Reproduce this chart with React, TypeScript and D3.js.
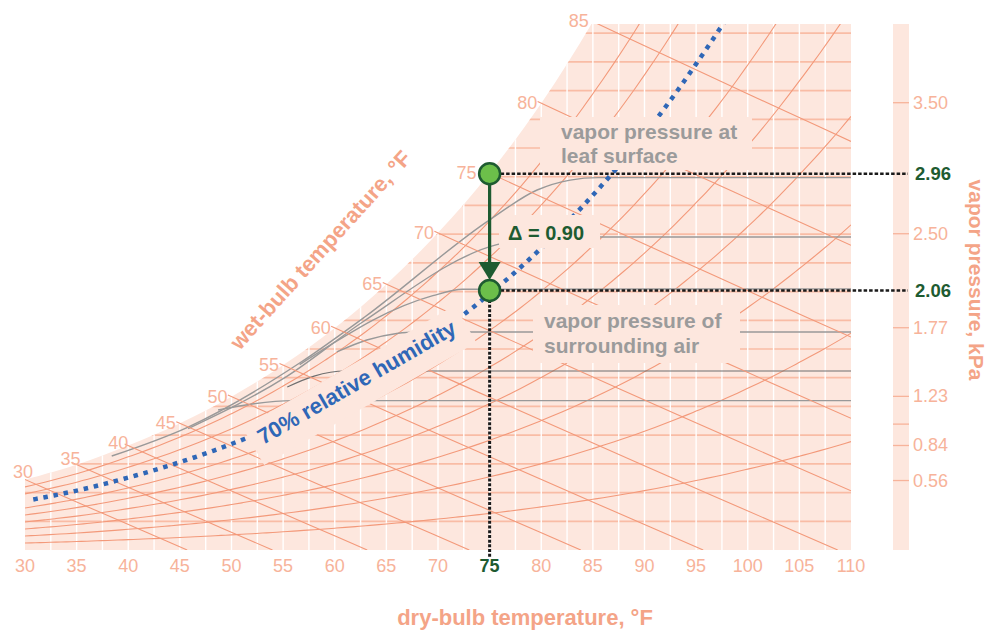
import React from 'react';
import * as d3 from 'd3';

// ---------------- data ----------------
const SAT_TEMPS_F = [30, 35, 40, 45, 50, 55, 60, 65, 70, 75, 80, 85, 90, 95, 100, 105, 110];
const SAT_VP_KPA = [0.568, 0.687, 0.839, 1.017, 1.228, 1.477, 1.768, 2.11, 2.507, 2.965, 3.496, 4.109, 4.813, 5.629, 6.552, 7.604, 8.786];
const DRY_BULB_TICKS = [30, 35, 40, 45, 50, 55, 60, 65, 70, 75, 80, 85, 90, 95, 100, 105, 110];
const WET_BULB_TEMPS = [30, 35, 40, 45, 50, 55, 60, 65, 70, 75, 80, 85];
const RH_CURVES = [10, 20, 30, 40, 50, 60, 80, 90];
const RH_HIGHLIGHT = 70;
const VP_TICKS = [3.5, 2.5, 1.77, 1.23, 1.01, 0.84, 0.56];
const VP_TICK_TEXT = ['3.50', '2.50', '1.77', '1.23', '', '0.84', '0.56'];
const HUMIDITY_GRID_GRAINS = [10, 20, 30, 40, 50, 60, 70, 80, 90, 100, 110, 120, 130, 140, 150, 160, 170, 180];
const LEAF_TEMP_F = 75;
const LEAF_VP = 2.96;
const AIR_VP = 2.06;
// grey guide curves: [dry-bulb °F, vapor pressure kPa]
const GRAY_CURVES: [number, number][][] = [
  [[38.4, 0.756], [45.8, 0.987], [56.6, 1.493], [62.9, 1.854], [75.0, 2.607], [79.6, 2.836], [82.8, 2.912], [85.5, 2.931], [110, 2.931]],
  [[45.8, 0.975], [55.4, 1.39], [62.7, 1.815], [75.7, 2.416], [80.5, 2.47], [84, 2.475], [110, 2.475]],
  [[56.6, 1.48], [60.5, 1.68], [63.7, 1.83], [69.5, 2.02], [72.4, 2.07], [110, 2.073]],
  [[60.2, 1.58], [63.1, 1.674], [66, 1.725], [67.8, 1.737], [110, 1.737]],
  [[55.4, 1.304], [58, 1.39], [61, 1.43], [110, 1.43]],
  [[48.7, 1.122], [52, 1.17], [55.9, 1.196], [110, 1.196]],
];

// ---------------- layout ----------------
const WIDTH = 997;
const HEIGHT = 630;
const X0 = 25;
const X1 = 851;
const YB = 550;
const YT = 24;
const P_ATM = 101.325;
const W_TOP = 26.17; // g/kg at the top edge

const FONT = 'Liberation Sans, Arial, Helvetica, sans-serif';
const PINK = '#fde7de';
const GRID_PINK = '#f9bca5';
const LINE_PINK = '#f3997a';
const TICK_SALMON = '#f7b39a';
const TITLE_SALMON = '#f4a487';
const DARK_GREEN = '#1e5b31';
const LIGHT_GREEN = '#6cbf4a';
const BLUE = '#2f67b7';
const GRAY_TEXT = '#9b9b9b';

function psat(T: number): number {
  const n = SAT_TEMPS_F.length;
  let i = Math.floor((T - SAT_TEMPS_F[0]) / 5);
  i = Math.max(0, Math.min(n - 2, i));
  const t0 = SAT_TEMPS_F[i];
  const t1 = SAT_TEMPS_F[i + 1];
  const f = (T - t0) / (t1 - t0);
  return Math.exp(Math.log(SAT_VP_KPA[i]) * (1 - f) + Math.log(SAT_VP_KPA[i + 1]) * f);
}
const wFromVp = (pv: number) => (622 * pv) / (P_ATM - pv); // g/kg
const rhW = (T: number, rh: number) => (622 * rh * psat(T)) / P_ATM;

function wetBulbW(tF: number, twbF: number): number {
  const tc = (tF - 32) / 1.8;
  const wc = (twbF - 32) / 1.8;
  const ps = psat(twbF);
  const ws = (0.622 * ps) / (P_ATM - ps);
  const w = ((2501 - 2.326 * wc) * ws - 1.006 * (tc - wc)) / (2501 + 1.86 * tc - 4.186 * wc);
  return w * 1000;
}
function wetBulbZeroF(twbF: number): number {
  const wc = (twbF - 32) / 1.8;
  const ps = psat(twbF);
  const ws = (0.622 * ps) / (P_ATM - ps);
  const tc = wc + ((2501 - 2.326 * wc) * ws) / 1.006;
  return tc * 1.8 + 32;
}

export default function App() {
  const x = d3.scaleLinear().domain([30, 110]).range([X0, X1]);
  const y = d3.scaleLinear().domain([0, W_TOP]).range([YB, YT]);

  const satArea = d3
    .area<number>()
    .x((t) => x(t))
    .y0(YB)
    .y1((t, i) => y(wFromVp(SAT_VP_KPA[i])))
    .curve(d3.curveCatmullRom)(SAT_TEMPS_F) as string;

  const rhLine = (rh: number, temps: number[]) =>
    d3
      .line<number>()
      .x((t) => x(t))
      .y((t) => y(rhW(t, rh)))
      .curve(d3.curveCatmullRom)(temps) as string;

  const rhTemps = d3.range(30, 110.01, 1);

  const vtLine = d3
    .line<[number, number]>()
    .x((d) => x(d[0]))
    .y((d) => y(wFromVp(d[1])))
    .curve(d3.curveMonotoneX);

  const wetBulbPaths = WET_BULB_TEMPS.map((twb) => {
    const tEnd = Math.min(110, wetBulbZeroF(twb));
    const pts: [number, number][] = [];
    const t0 = twb - 0.35;
    const steps = 8;
    for (let k = 0; k <= steps; k++) {
      const t = t0 + ((tEnd - t0) * k) / steps;
      pts.push([x(t), y(Math.max(0, wetBulbW(t, twb)))]);
    }
    return d3.line()(pts) as string;
  });

  const whiteVerticals = d3.range(32.5, 110, 2.5);

  const xLeaf = x(LEAF_TEMP_F);
  const yLeaf = y(wFromVp(LEAF_VP));
  const yAir = y(wFromVp(AIR_VP));
  const R = 10.5;

  const blueTemps = d3.range(30.8, 110.01, 0.5);

  const wbLabels = WET_BULB_TEMPS.map((t) => {
    const sx = x(t);
    const sy = Math.max(y(wFromVp(psat(t))), YT);
    const f = Math.max(0, Math.min(1, (45 - t) / 15));
    let lx = sx - 4 + 12 * f;
    const ly = sy - 8 * f - (t === 85 ? 3 : 0);
    if (t === LEAF_TEMP_F) lx = sx - 13;
    return { t, lx, ly };
  });

  return (
    <svg
      width={WIDTH}
      height={HEIGHT}
      viewBox={`0 0 ${WIDTH} ${HEIGHT}`}
      style={{ position: 'absolute', left: 0, top: 0, background: '#fff' }}
      fontFamily={FONT}
    >
      <defs>
        <clipPath id="plotClip">
          <rect x={X0} y={YT} width={X1 - X0} height={YB - YT} />
        </clipPath>
        <clipPath id="satClip">
          <path d={satArea} />
        </clipPath>
      </defs>

      <rect x={893} y={YT} width={16} height={YB - YT} fill={PINK} />

      <g clipPath="url(#plotClip)">
        <path d={satArea} fill={PINK} />
        <g clipPath="url(#satClip)">
          {HUMIDITY_GRID_GRAINS.map((g) => (
            <line key={g} x1={X0} x2={X1} y1={y((g / 7000) * 1000)} y2={y((g / 7000) * 1000)} stroke={GRID_PINK} strokeWidth={1.7} />
          ))}
          {whiteVerticals.map((t) => (
            <line key={t} x1={x(t)} x2={x(t)} y1={YT} y2={YB} stroke="#fff" strokeWidth={1.4} />
          ))}
          {RH_CURVES.map((rh) => (
            <path key={rh} d={rhLine(rh / 100, rhTemps)} fill="none" stroke={LINE_PINK} strokeWidth={1.1} />
          ))}
          {GRAY_CURVES.map((c, i) => (
            <path key={i} d={vtLine(c) as string} fill="none" stroke={i === 4 ? '#6f6f6f' : '#999999'} strokeWidth={i === 4 ? 1.1 : 1.4} />
          ))}
        </g>
        {wetBulbPaths.map((d, i) => (
          <path key={i} d={d} fill="none" stroke={LINE_PINK} strokeWidth={1.1} />
        ))}
        <path
          d={rhLine(RH_HIGHLIGHT / 100, blueTemps)}
          fill="none"
          stroke={BLUE}
          strokeWidth={4.5}
          strokeDasharray="4.5 5.8"
        />
      </g>

      {/* label backgrounds */}
      <rect x={540} y={117} width={212} height={53} fill={PINK} />
      <rect x={533} y={305} width={207} height={58} fill={PINK} />
      <rect x={499} y={215} width={101} height={33} fill={PINK} />
      <g transform="translate(263,445) rotate(-30)">
        <rect x={-9} y={-25} width={245} height={43} fill={PINK} />
        <text x={0} y={0} fontSize={22} fontWeight="bold" fill={BLUE}>
          {`${RH_HIGHLIGHT}% relative humidity`}
        </text>
      </g>

      <text x={561} y={139} fontSize={21} fontWeight="bold" fill={GRAY_TEXT}>vapor pressure at</text>
      <text x={561} y={163} fontSize={21} fontWeight="bold" fill={GRAY_TEXT}>leaf surface</text>
      <text x={544} y={328} fontSize={21} fontWeight="bold" fill={GRAY_TEXT}>vapor pressure of</text>
      <text x={544} y={353} fontSize={21} fontWeight="bold" fill={GRAY_TEXT}>surrounding air</text>
      <text x={508} y={240} fontSize={20} fontWeight="bold" fill={DARK_GREEN}>
        {`Δ = ${(LEAF_VP - AIR_VP).toFixed(2)}`}
      </text>

      {wbLabels.map((l) => (
        <text key={l.t} x={l.lx} y={l.ly} fontSize={18} fill={TICK_SALMON} textAnchor="end" dominantBaseline="central">
          {l.t}
        </text>
      ))}

      {DRY_BULB_TICKS.map((t) => (
        <text
          key={t}
          x={x(t)}
          y={572}
          fontSize={18}
          textAnchor="middle"
          fill={t === LEAF_TEMP_F ? DARK_GREEN : TICK_SALMON}
          fontWeight={t === LEAF_TEMP_F ? 'bold' : 'normal'}
        >
          {t}
        </text>
      ))}

      {VP_TICKS.map((v, i) => (
        <g key={v}>
          <line x1={893} x2={909} y1={y(wFromVp(v))} y2={y(wFromVp(v))} stroke={TICK_SALMON} strokeWidth={1.3} />
          <text x={913} y={y(wFromVp(v))} fontSize={18} fill={TICK_SALMON} dominantBaseline="central">
            {VP_TICK_TEXT[i]}
          </text>
        </g>
      ))}

      <text x={525} y={625} fontSize={22} fontWeight="bold" fill={TITLE_SALMON} textAnchor="middle">
        dry-bulb temperature, °F
      </text>
      <text transform="translate(326,255) rotate(-48)" fontSize={22} fontWeight="bold" fill={TITLE_SALMON} textAnchor="middle">
        wet-bulb temperature, °F
      </text>
      <text transform="translate(969,280) rotate(90)" fontSize={21} fontWeight="bold" fill={TITLE_SALMON} textAnchor="middle">
        vapor pressure, kPa
      </text>

      <line x1={xLeaf} x2={908} y1={yLeaf} y2={yLeaf} stroke="#1a1a1a" strokeWidth={2.5} strokeDasharray="3.5 2" />
      <line x1={xLeaf} x2={908} y1={yAir} y2={yAir} stroke="#1a1a1a" strokeWidth={2.5} strokeDasharray="3.5 2" />
      <line x1={xLeaf} x2={xLeaf} y1={yAir} y2={557} stroke="#1a1a1a" strokeWidth={3} strokeDasharray="3 1.7" />
      <text x={915} y={yLeaf} fontSize={18.5} fontWeight="bold" fill={DARK_GREEN} dominantBaseline="central">
        {LEAF_VP.toFixed(2)}
      </text>
      <text x={915} y={yAir} fontSize={18.5} fontWeight="bold" fill={DARK_GREEN} dominantBaseline="central">
        {AIR_VP.toFixed(2)}
      </text>

      <line x1={xLeaf} x2={xLeaf} y1={yLeaf + R} y2={yAir - R - 14} stroke={DARK_GREEN} strokeWidth={3.2} />
      <path
        d={`M${xLeaf - 11},${yAir - R - 18} L${xLeaf + 11},${yAir - R - 18} L${xLeaf},${yAir - R} Z`}
        fill={DARK_GREEN}
      />
      <circle cx={xLeaf} cy={yLeaf} r={R} fill={LIGHT_GREEN} stroke={DARK_GREEN} strokeWidth={2.5} />
      <circle cx={xLeaf} cy={yAir} r={R} fill={LIGHT_GREEN} stroke={DARK_GREEN} strokeWidth={2.5} />
    </svg>
  );
}
